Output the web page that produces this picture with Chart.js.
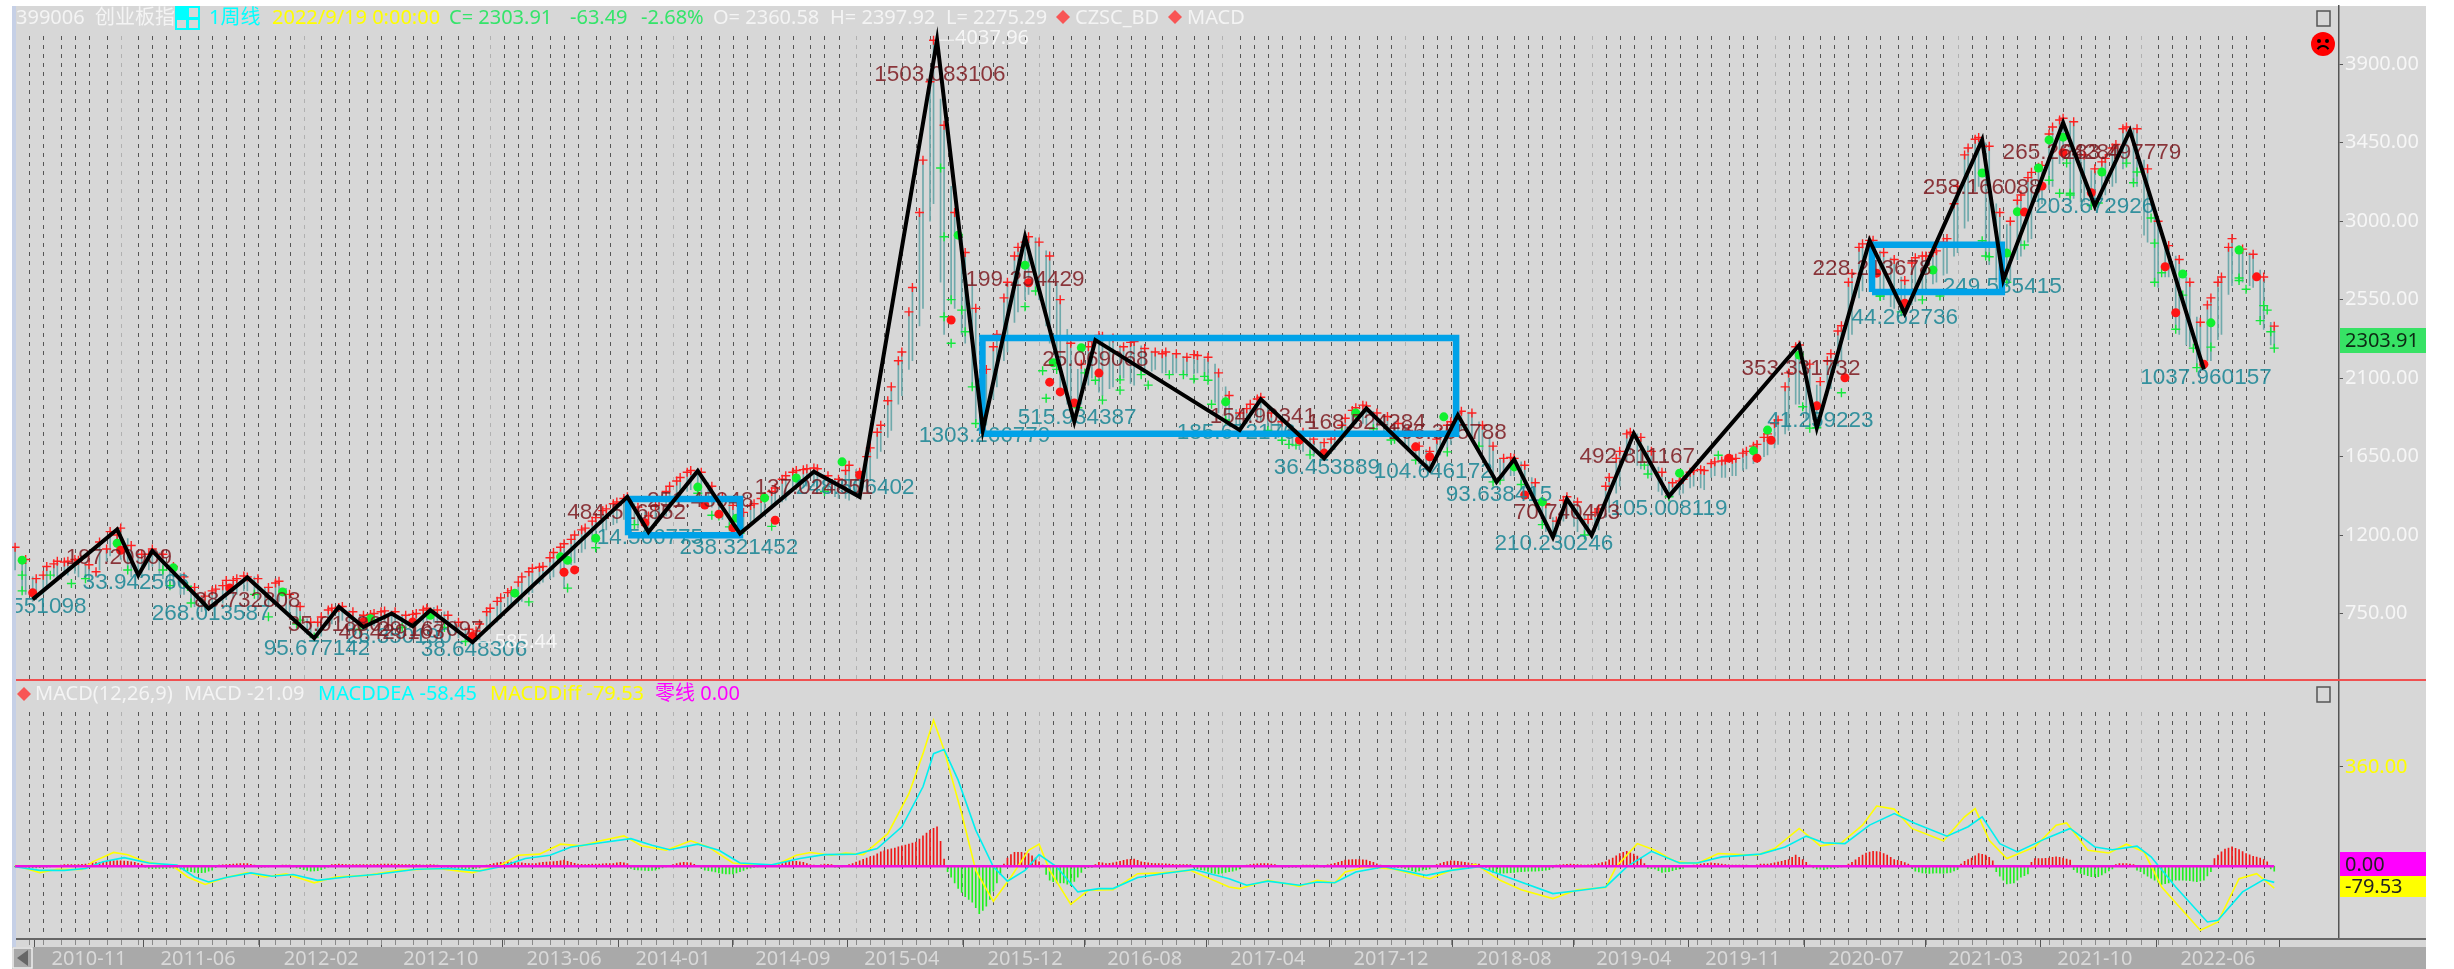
<!DOCTYPE html>
<html>
<head>
<meta charset="utf-8">
<title>399006</title>
<script src="https://cdn.jsdelivr.net/npm/chart.js@4"></script>
<style>
html, body { margin: 0; padding: 0; background: #fff; overflow: hidden; }
#wrap { width: 2454px; height: 969px; }
</style>
</head>
<body>
<div id="wrap"><canvas id="kline" width="2454" height="969"></canvas></div>
<script>
// all x values are weeks counted from the first bar (2010-06-07)
var tickLabels = ['2010-11','2011-06','2012-02','2012-10','2013-06','2014-01','2014-09','2015-04','2015-12','2016-08',
    '2017-04','2017-12','2018-08','2019-04','2019-11','2020-07','2021-03','2021-10','2022-06'];
var priceTicks = [3900, 3450, 3000, 2550, 2100, 1650, 1200, 750];
var macdTicks = [360];

// bars at weeks 0, 3, 6 ...
var barLows = [
    1000,860,830,900,960,970,960,940,1000,1080,
    1060,960,960,1020,950,900,860,790,770,790,
    830,860,880,830,800,820,740,670,610,620,
    690,710,660,660,680,700,690,670,680,710,
    690,650,610,590,600,660,720,790,820,870,
    930,960,900,1040,1120,1180,1230,1270,1290,1240,
    1220,1280,1330,1400,1460,1430,1360,1290,1230,1210,
    1280,1310,1370,1400,1460,1480,1470,1440,1410,1400,
    1410,1520,1680,1800,2000,2200,2500,3100,2350,2500,
    2300,1850,1830,2050,2250,2480,2580,2550,2300,2000,
    1900,1950,2100,2000,2050,2100,2060,2130,2150,2130,
    2130,2110,2130,2100,1900,1830,1800,1850,1850,1790,
    1740,1710,1680,1650,1640,1690,1760,1840,1830,1800,
    1790,1740,1680,1610,1572,1660,1720,1800,1750,1690,
    1510,1520,1540,1470,1370,1220,1190,1300,1220,1200,
    1230,1330,1480,1660,1580,1530,1430,1420,1440,1480,
    1460,1540,1530,1540,1580,1620,1660,1720,1800,1950,
    1830,1815,2040,2200,2350,2600,2650,2550,2500,2471,
    2540,2600,2650,2700,2820,3000,3200,2750,2650,2660,
    2800,2900,3100,3200,3350,3130,3110,3087,3150,3220,
    3320,3200,2880,2620,2680,2350,2280,2150,2200,2350,
    2630,2650,2620,2380,2275];
var barHighs = [
    1130,1060,950,1020,1050,1050,1055,1030,1160,1220,
    1240,1140,1090,1120,1090,1020,960,900,850,890,
    940,950,960,950,900,935,860,790,700,730,
    780,790,760,740,750,765,760,740,750,780,
    770,740,700,660,690,780,840,880,960,1010,
    1020,1100,1150,1200,1240,1300,1350,1390,1420,1360,
    1310,1400,1480,1530,1570,1560,1480,1420,1370,1330,
    1380,1420,1470,1540,1570,1580,1580,1540,1520,1600,
    1560,1700,1830,2050,2250,2620,3350,4037.96,3550,3050,
    2820,2500,2150,2350,2650,2850,2911,2880,2800,2550,
    2300,2180,2310,2340,2330,2280,2310,2270,2250,2250,
    2240,2220,2230,2220,2130,2000,1900,1950,1990,1900,
    1850,1800,1790,1750,1730,1780,1870,1930,1940,1900,
    1880,1840,1800,1710,1680,1790,1850,1910,1900,1830,
    1710,1640,1640,1600,1500,1380,1280,1420,1390,1290,
    1350,1530,1680,1790,1760,1680,1560,1500,1520,1570,
    1570,1620,1630,1640,1680,1720,1780,1860,2130,2290,
    2180,2080,2240,2400,2700,2870,2890,2820,2780,2660,
    2790,2800,2830,2900,3200,3420,3480,3430,3050,3000,
    3150,3280,3320,3540,3590,3570,3380,3300,3360,3440,
    3540,3530,3300,3000,2860,2780,2650,2420,2560,2680,
    2900,2840,2810,2680,2398];

// in-between bars at weeks 2, 5, 8 ...
var midLows = [
    880,820,860,960,970,980,950,960,1050,1100,
    1000,970,1000,980,910,860,810,760,780,810,
    840,880,860,800,800,770,690,630,610,680,
    700,680,660,690,700,695,670,680,700,700,
    670,630,590,590,650,700,770,810,860,920,
    950,980,1030,1100,1160,1220,1260,1290,1260,1220,
    1260,1310,1390,1450,1440,1380,1310,1250,1210,1260,
    1300,1350,1390,1450,1470,1480,1450,1420,1410,1420,
    1500,1640,1760,1950,2150,2400,3000,2650,2550,2350,
    2050,1840,1980,2200,2420,2550,2600,2400,2150,1950,
    1930,2060,2020,2040,2090,2070,2120,2140,2130,2120,
    2120,2125,2110,1960,1860,1810,1840,1860,1800,1760,
    1720,1690,1660,1640,1670,1740,1820,1840,1810,1790,
    1750,1700,1630,1575,1640,1700,1780,1770,1710,1560,
    1515,1540,1490,1400,1260,1190,1280,1250,1200,1220,
    1300,1440,1620,1600,1550,1450,1420,1430,1470,1470,
    1530,1530,1540,1570,1610,1650,1700,1780,1950,1860,
    1815,2000,2170,2320,2560,2650,2570,2510,2480,2520,
    2590,2640,2690,2800,2960,3170,2800,2650,2650,2780,
    2880,3080,3180,3330,3150,3110,3090,3130,3200,3300,
    3220,2920,2650,2680,2380,2290,2160,2200,2320,2580,
    2660,2630,2430,2290];
var midHighs = [
    1070,960,970,1035,1045,1060,1045,990,1120,1200,
    1180,1100,1090,1100,1030,980,910,850,880,910,
    940,965,960,900,925,895,800,720,700,770,
    785,770,745,745,760,765,745,745,770,785,
    760,710,670,650,760,820,870,930,990,1015,
    1070,1130,1175,1230,1280,1340,1380,1410,1380,1330,
    1370,1450,1510,1560,1565,1500,1440,1390,1340,1370,
    1410,1450,1520,1560,1575,1585,1545,1525,1570,1575,
    1650,1790,1970,2200,2480,3050,3800,3700,3200,2900,
    2650,2250,2280,2560,2800,2880,2905,2830,2650,2380,
    2150,2280,2345,2325,2290,2305,2285,2255,2240,2235,
    2225,2235,2210,2180,2050,1920,1925,1980,1930,1860,
    1810,1795,1760,1735,1750,1830,1915,1945,1910,1885,
    1850,1820,1730,1690,1750,1830,1900,1905,1850,1760,
    1640,1645,1620,1530,1420,1300,1400,1400,1310,1330,
    1480,1640,1780,1780,1710,1590,1510,1510,1560,1575,
    1610,1625,1635,1670,1710,1760,1840,2050,2280,2200,
    2060,2200,2370,2650,2850,2890,2830,2790,2680,2760,
    2800,2820,2880,3100,3380,3470,3450,3100,2980,3120,
    3250,3310,3500,3580,3575,3400,3290,3340,3420,3530,
    3535,3350,3050,2870,2800,2680,2450,2520,2650,2850,
    2860,2820,2720,2420];

var redDotWeeks = [5,30,61,99,113,130,156,159,179,196,200,204,216,240,266,288,294,297,301,308,365,372,398,402,429,487,495,499,512,520,529,537,571,576,582,590,611,614,622,637];
var redDotPrices = [869,1113,897,702,702,620,987,1000,1270,1372,1320,1241,1285,1544,2433,2647,2077,2021,1958,2129,1745,1670,1706,1649,1430,1641,1641,1744,1941,2102,2702,2530,3052,3202,3393,3163,2739,2475,2180,2681];
var greenDotWeeks = [2,29,45,76,101,118,142,155,157,165,194,205,213,222,235,268,287,295,303,344,381,406,426,434,473,494,498,507,545,559,566,569,575,578,582,593,616,624,632];
var greenDotPrices = [1056,1153,1012,874,720,740,867,1075,1055,1182,1475,1297,1413,1527,1620,2920,2748,2188,2274,1964,1900,1878,1591,1390,1555,1683,1802,2232,2720,3276,2817,3054,3305,3466,3482,3282,2697,2417,2835];
var greenCrossWeeks = [2,10,16,42,49,72,81,85,146,157,165,198,215,203,263,264,264,269,270,266,273,287,292,293,304,307,309,314,322,328,335,339,340,360,364,377,391,407,420,463,484,510,508,519,530,542,547,561,559,571,581,584,583,578,592,600,603,607,608,610,616,619,624,632,634,639,640,641,642];
var greenCrossPrices = [970,970,922,1000,905,731,712,615,817,896,1127,1314,1250,1247,3305,2911,2452,2490,2366,2300,1840,2510,2142,1985,2130,2088,1974,2031,2060,2120,2095,2088,1950,1744,1716,1792,1745,1677,1505,1601,1658,1813,1936,2016,2571,2549,2571,2796,2888,2863,3160,3160,3333,3235,3104,3333,3282,3018,2874,2704,2576,2272,2278,2674,2610,2516,2490,2366,2272];

// CZSC pen: black zigzag through the pivots
var penWeeks = [5,29,35,39,55,66,85,92,99,107,113,118,130,174,180,194,206,227,240,262,275,287,301,307,348,354,372,384,402,410,421,426,437,441,448,460,470,507,512,527,537,559,565,582,591,601,622];
var penPrices = [831,1232,970,1109,779,957,609,788,673,750,677,769,585.44,1419,1218,1568,1209,1563,1419,4037.96,1802,2911,1850,2318,1802,1978,1640,1926,1572,1888,1505,1634,1188,1406,1199,1782,1423,2290,1815,2888,2471,3466,2662,3565,3087,3519,2150];

// zhongshu boxes: [from week, to week], [low, high]
var boxWeeks = [[174.2,206],[274.9,409.5],[527.7,564.6]];
var boxPrices = [[1199,1407],[1781,2330],[2594,2865]];

// pen strength labels
var redLabels = ['197.20909','88.732808','35.018861','46.429163','29.167097','484.516852','251.45948','137.024851','1503.083106','199.254429','25.069068','154.90341','168.524284','166.355788','70.740403','492.811167','353.331732','228.213678','258.166088','265.264284','283.497779'];
var redLabelWeeks = [29.5,66,92.6,107,118,173.8,194.7,227,262.8,287,307,354.6,384,407,441,461,507.5,527.7,559,581.7,598.7];
var redLabelPrices = [1068,821,683,637,654,1326,1395,1469,3839,2662,2203,1876,1842,1785,1326,1647,2152,2726,3190,3391,3391];
var tealLabels = ['551098','33.942566','268.013587','95.677142','26.350190','38.648306','14.566775','238.321452','248.506402','515.934387','1303.266779','185.672176','36.453889','104.646172','93.638415','210.230246','105.008119','41.259223','44.262736','249.585415','203.672926','1037.960157'];
var tealLabelWeeks = [9.6,34.3,55.7,85.8,109,130.4,180.4,205.7,238.7,301.8,275.5,347,372.8,403,421.7,437.3,470,513,537,564.7,591,622.6];
var tealLabelPrices = [786,924,746,545,614,540,1182,1125,1469,1871,1767,1785,1584,1561,1429,1148,1349,1854,2444,2622,3081,2100];

// MACD lines
var diffWeeks = [0,7,12,19,22,28,32,37,45,49,54,60,66,71,77,85,91,100,109,120,130,138,143,149,155,161,167,173,178,185,192,197,204,210,216,222,226,232,236,241,248,254,258,261,264,269,273,278,283,288,291,294,300,305,312,319,326,334,345,348,356,365,370,375,378,384,392,402,408,415,422,428,437,444,452,455,461,466,472,478,484,495,500,507,513,519,525,529,534,539,548,554,557,561,566,574,580,583,589,595,600,605,610,621,626,632,637,642];
var diffValues = [4,-23,-11,-12,16,50,42,16,0,-39,-66,-41,-23,-39,-27,-60,-39,-33,-15,-8,-23,4,40,44,80,74,94,110,74,58,92,70,12,4,4,40,50,40,48,42,118,263,408,529,421,191,-15,-127,-39,58,80,-15,-138,-87,-85,-27,-24,-15,-75,-81,-51,-73,-51,-60,-21,-2,-11,-45,-15,7,-51,-85,-117,-85,-77,-2,82,58,16,10,46,40,64,137,74,85,149,218,207,137,92,179,209,94,28,70,149,157,58,48,80,52,-75,-232,-202,-45,-27,-79.53];
var deaWeeks = [0,7,14,20,25,31,38,46,51,55,60,67,73,79,86,94,103,114,123,132,138,145,152,158,167,175,181,186,194,200,206,215,223,230,239,245,252,258,261,264,268,273,278,282,287,291,296,302,308,312,319,326,335,345,350,356,365,370,375,381,389,401,408,416,424,437,445,452,458,465,473,478,485,496,503,509,514,520,527,534,540,549,555,559,564,569,577,584,591,596,603,607,614,623,626,633,639,642];
var deaValues = [-2,-15,-15,-8,16,31,12,4,-39,-57,-41,-24,-36,-30,-51,-39,-29,-11,-8,-17,-2,28,40,70,86,100,76,60,80,58,12,5,28,42,44,64,143,288,408,423,312,131,-2,-54,-15,42,-2,-93,-81,-81,-41,-27,-12,-45,-69,-54,-69,-57,-60,-21,-2,-33,-15,-2,-39,-99,-87,-75,-2,54,12,12,34,44,70,109,85,82,149,191,155,109,143,179,82,52,100,137,70,60,73,34,-75,-202,-196,-93,-48,-58.45];
var zeroWeeks = [0, 642];
var zeroValues = [0, 0];

// MACD histogram, one value per week
var histValues = [
    -2,-3,-4,-5,-6,-6,-6,-5,-4,-3,-2,0,2,4,6,6,6,6,6,7,8,10,12,13,14,16,18,19,20,20,20,19,18,16,14,11,8,-3,-8,-8,
    -8,-8,-8,-7,-6,-7,-8,-11,-14,-17,-20,-22,-24,-23,-22,-18,-14,-5,4,5,6,7,8,9,10,10,10,7,4,-2,-4,-3,-2,1,2,3,4,4,4,-2,
    -6,-9,-12,-15,-18,-17,-16,-12,-8,-3,6,7,8,7,6,6,6,6,6,6,6,6,6,7,8,8,8,8,8,7,6,6,6,6,6,5,4,5,6,5,
    4,2,-2,-4,-6,-7,-8,-9,-10,-10,-10,-8,-6,2,4,7,10,12,14,15,16,15,14,13,12,11,10,10,10,12,14,15,16,17,18,20,22,18,14,11,
    8,7,6,7,8,8,8,9,10,10,10,12,14,12,10,-8,-12,-13,-14,-15,-16,-15,-14,-10,-6,-2,2,6,10,12,14,13,12,7,2,-8,-14,-16,-18,-21,
    -24,-26,-28,-28,-28,-24,-20,-15,-10,-7,-4,-2,2,3,4,5,6,8,10,14,18,18,18,16,14,10,6,4,2,5,8,7,6,-3,-4,-2,2,6,10,15,
    20,25,30,34,38,45,52,56,60,63,66,70,74,77,80,84,88,98,110,120,130,137,143,90,26,-20,-40,-60,-80,-95,-110,-120,-130,-150,-172,-160,-145,-120,-90,-60,
    -30,8,30,42,50,50,50,48,46,38,30,16,4,-30,-50,-56,-60,-60,-60,-65,-70,-55,-40,-22,-8,-5,-4,6,14,12,10,11,12,15,18,21,24,25,26,21,
    16,14,12,11,10,10,10,9,8,7,6,6,6,6,6,-6,-10,-12,-14,-19,-24,-26,-28,-25,-22,-20,-18,-14,-10,3,4,6,8,9,10,10,10,8,6,2,
    -2,-3,-4,-4,-4,2,4,4,4,4,4,-2,-4,5,8,11,14,18,22,23,24,24,24,23,22,18,14,9,4,-2,-2,-3,-4,-5,-6,-9,-12,-16,-20,-17,
    -14,-12,-10,3,6,10,14,17,20,19,18,16,14,12,10,9,8,-3,-4,-14,-22,-24,-26,-25,-24,-23,-22,-21,-20,-19,-18,-18,-18,-17,-16,-14,-12,-6,4,5,
    6,7,8,7,6,5,4,5,6,8,10,13,16,23,30,38,46,50,54,49,44,37,30,10,-8,-9,-10,-16,-22,-21,-20,-16,-12,-10,-8,2,2,4,6,8,
    10,11,12,11,10,8,6,5,4,4,4,4,4,3,2,5,8,8,8,10,12,15,18,21,24,32,40,32,24,14,4,-6,-10,-11,-12,-10,-8,-6,-4,-2,
    2,8,14,23,32,40,48,51,54,53,52,46,40,32,24,21,18,13,8,-8,-18,-21,-24,-25,-26,-25,-24,-25,-26,-24,-22,-17,-12,8,18,24,30,38,46,43,
    40,32,20,-20,-36,-50,-64,-62,-60,-50,-40,-34,-28,14,28,28,28,29,30,32,34,32,30,26,22,-12,-22,-26,-30,-34,-38,-38,-38,-31,-24,-17,-10,6,10,10,
    10,8,6,-14,-20,-28,-36,-43,-50,-58,-66,-63,-60,-55,-50,-50,-50,-51,-52,-54,-56,-53,-50,-35,-20,28,40,52,62,66,70,65,60,53,46,41,36,33,30,24,
    16,-10,-18];

// first week that falls in a calendar month, used for the month grid and axis labels
var firstBar = Date.UTC(2010, 5, 7);
function weekOfMonth(y, m) {
    return Math.ceil((Date.UTC(y, m, 1) - firstBar) / (7 * 86400000));
}
var monthGrid = [];
for (var yy = 2010; yy <= 2022; yy++) {
    for (var mm = 0; mm < 12; mm++) {
        if ((yy == 2010 && mm < 6) || (yy == 2022 && mm > 8)) continue;
        monthGrid.push({ week: weekOfMonth(yy, mm), jan: mm == 0 });
    }
}
var tickWeeks = tickLabels.map(function(s) {
    var p = s.split('-');
    return weekOfMonth(+p[0], +p[1] - 1);
});

function pairs(xs, ys) {
    return xs.map(function(x, i) { return { x: x, y: ys[i] }; });
}
function boxPath(i) {
    var w = boxWeeks[i], p = boxPrices[i];
    return [{x:w[0],y:p[0]},{x:w[1],y:p[0]},{x:w[1],y:p[1]},{x:w[0],y:p[1]},{x:w[0],y:p[0]}];
}
function marksFrom(label, points, style, color, radius, width, order) {
    return { type: 'scatter', label: label, data: points, yAxisID: 'y', order: order,
        pointStyle: style, pointRadius: radius, borderColor: color, backgroundColor: color, pointBorderWidth: width };
}
function boxSet(i) {
    return { type: 'line', label: 'box' + i, data: boxPath(i), yAxisID: 'y', order: 3,
        borderColor: '#00a2e8', borderWidth: 6.5, borderJoinStyle: 'miter', pointRadius: 0, fill: false, tension: 0 };
}
function macdLine(label, xs, ys, color, width, order) {
    return { type: 'line', label: label, data: pairs(xs, ys), yAxisID: 'm', order: order,
        borderColor: color, borderWidth: width, pointRadius: 0, fill: false, tension: 0 };
}
function barSet(label, lows, highs, weekAt) {
    return { type: 'bar', label: label, yAxisID: 'y', order: 8, grouped: false, barThickness: 1, backgroundColor: '#6fa9ab',
        data: lows.map(function(v, i) { return { x: weekAt(i), y: [v, highs[i]] }; }) };
}
function barWeek(i) { return i * 3; }
function midWeek(i) { return i * 3 + 2; }

// red crosses sit on the high of the rising bars, green ones on the low of the falling in-between bars
var redCrossPoints = barHighs.map(function(v, i) { return { x: barWeek(i), y: v }; });
var extraGreenPoints = [];
midHighs.forEach(function(v, i) {
    if (barHighs[i + 1] >= barHighs[i]) redCrossPoints.push({ x: midWeek(i), y: v });
    else if (i % 2 == 0) extraGreenPoints.push({ x: midWeek(i), y: midLows[i] });
});

var FONT = '"Noto Sans", "Noto Sans CJK SC", sans-serif';
var PANE_LEFT = 12, PANE_RIGHT = 2426, PANE_TOP = 6, SPLIT_Y = 680, STRIP_Y = 947;

function text(ctx, s, x, y, color, font, align) {
    ctx.font = font || ('20px ' + FONT);
    ctx.fillStyle = color;
    ctx.textAlign = align || 'left';
    ctx.textBaseline = 'middle';
    ctx.fillText(s, x, y);
}
function diamond(ctx, x, y, r) {
    ctx.fillStyle = '#f85555';
    ctx.beginPath();
    ctx.moveTo(x - r, y); ctx.lineTo(x, y - r); ctx.lineTo(x + r, y); ctx.lineTo(x, y + r);
    ctx.closePath();
    ctx.fill();
}
function smallBox(ctx, x, y) {
    ctx.strokeStyle = '#555';
    ctx.lineWidth = 1.5;
    ctx.strokeRect(x, y, 13, 15);
}
function tag(ctx, s, top, bottom, bg, fg) {
    ctx.fillStyle = bg;
    ctx.fillRect(2340, top, PANE_RIGHT - 2340, bottom - top);
    text(ctx, s, 2345, (top + bottom) / 2 + 1, fg);
}

// month grid, drawn under the datasets
var panelPlugin = {
    id: 'panel',
    beforeDatasetsDraw: function(chart) {
        var ctx = chart.ctx, x = chart.scales.x;
        ctx.save();
        ctx.lineWidth = 1;
        monthGrid.forEach(function(g) {
            var px = Math.round(x.getPixelForValue(g.week)) + 0.5;
            ctx.strokeStyle = g.jan ? '#b0b0b0' : '#555';
            ctx.setLineDash([4, 5]);
            ctx.beginPath();
            ctx.moveTo(px, 36); ctx.lineTo(px, SPLIT_Y);
            ctx.moveTo(px, 712); ctx.lineTo(px, 937);
            ctx.stroke();
            ctx.setLineDash([]);
            ctx.strokeStyle = '#8a8a8a';
            ctx.beginPath();
            ctx.moveTo(px, 940); ctx.lineTo(px, 945);
            ctx.stroke();
        });
        ctx.restore();
    }
};

var backgroundPlugin = {
    id: 'background',
    beforeDraw: function(chart) {
        var ctx = chart.ctx;
        ctx.save();
        ctx.fillStyle = '#fff';
        ctx.fillRect(0, 0, chart.width, chart.height);
        ctx.fillStyle = '#d7d7d7';
        ctx.fillRect(PANE_LEFT, PANE_TOP, PANE_RIGHT - PANE_LEFT, STRIP_Y - PANE_TOP);
        ctx.fillStyle = '#a9a9a9';
        ctx.fillRect(PANE_LEFT, STRIP_Y, PANE_RIGHT - PANE_LEFT, chart.height - STRIP_Y);
        ctx.fillStyle = '#c6d0e6';
        ctx.fillRect(PANE_LEFT, PANE_TOP, 4, STRIP_Y - PANE_TOP);
        ctx.restore();
    }
};

// the pen labels lie over the marks and under the boxes
var labelPlugin = {
    id: 'penLabels',
    beforeDatasetDraw: function(chart, args) {
        if (chart.data.datasets[args.index].label != 'box2') return;
        var ctx = chart.ctx, x = chart.scales.x, y = chart.scales.y;
        var font = '22.5px "Liberation Sans", sans-serif';
        ctx.save();
        ctx.beginPath();
        ctx.rect(16, PANE_TOP, 2320, SPLIT_Y - PANE_TOP);
        ctx.clip();
        tealLabels.forEach(function(s, i) {
            text(ctx, s, x.getPixelForValue(tealLabelWeeks[i]), y.getPixelForValue(tealLabelPrices[i]), 'rgba(30,135,150,.88)', font, 'center');
        });
        redLabels.forEach(function(s, i) {
            text(ctx, s, x.getPixelForValue(redLabelWeeks[i]), y.getPixelForValue(redLabelPrices[i]), 'rgba(125,25,30,.85)', font, 'center');
        });
        // extreme price notes
        var hx = x.getPixelForValue(262), hy = y.getPixelForValue(4037.96);
        text(ctx, '4037.96', hx + 18, hy - 2, '#f6f6f6');
        ctx.strokeStyle = '#f6f6f6';
        ctx.beginPath(); ctx.moveTo(hx, hy); ctx.lineTo(hx + 17, hy); ctx.stroke();
        var lx = x.getPixelForValue(130), ly = y.getPixelForValue(585.44);
        text(ctx, '585.44', lx + 22, ly, '#f6f6f6');
        ctx.beginPath(); ctx.moveTo(lx, ly); ctx.lineTo(lx + 20, ly); ctx.stroke();
        ctx.restore();
    }
};

// header texts, pane separators, price tags and small controls
var chromePlugin = {
    id: 'chrome',
    afterDraw: function(chart) {
        var ctx = chart.ctx;
        ctx.save();
        ctx.fillStyle = '#f05050';
        ctx.fillRect(PANE_LEFT + 4, SPLIT_Y - 1, PANE_RIGHT - PANE_LEFT - 4, 2);
        ctx.fillStyle = '#666';
        ctx.fillRect(PANE_LEFT + 4, 938, PANE_RIGHT - PANE_LEFT - 4, 2);

        var w = '#f4f4f4', g = '#34e46a';
        text(ctx, '399006  创业板指', 16, 18, w);
        text(ctx, '1周线', 209, 18, '#00ffff');
        text(ctx, '2022/9/19 0:00:00', 272, 18, '#ffff00');
        text(ctx, 'C= 2303.91', 449, 18, g);
        text(ctx, '-63.49', 570, 18, g);
        text(ctx, '-2.68%', 641, 18, g);
        text(ctx, 'O= 2360.58', 713, 18, w);
        text(ctx, 'H= 2397.92', 830, 18, w);
        text(ctx, 'L= 2275.29', 946, 18, w);
        diamond(ctx, 1063, 17, 7);
        text(ctx, 'CZSC_BD', 1075, 18, w);
        diamond(ctx, 1175, 17, 7);
        text(ctx, 'MACD', 1187, 18, w);

        diamond(ctx, 24, 694, 7);
        text(ctx, 'MACD(12,26,9)', 35, 694, w);
        text(ctx, 'MACD -21.09', 184, 694, w);
        text(ctx, 'MACDDEA -58.45', 318, 694, '#00ffff');
        text(ctx, 'MACDDiff -79.53', 490, 694, '#ffff00');
        text(ctx, '零线 0.00', 655, 694, '#ff00ff');

        // cyan period icon
        ctx.fillStyle = '#00ffff';
        ctx.fillRect(175, 6, 25, 24);
        ctx.fillStyle = '#d7d7d7';
        ctx.fillRect(189, 8, 9, 9);
        ctx.fillRect(177, 20, 9, 8);
        ctx.fillRect(189, 20, 9, 8);

        smallBox(ctx, 2317, 11);
        smallBox(ctx, 2317, 687);

        // sad face button
        ctx.fillStyle = '#ff0000';
        ctx.beginPath(); ctx.arc(2323, 44, 12, 0, Math.PI * 2); ctx.fill();
        ctx.fillStyle = '#000';
        ctx.beginPath(); ctx.arc(2319, 41, 2, 0, Math.PI * 2); ctx.arc(2327, 41, 2, 0, Math.PI * 2); ctx.fill();
        ctx.strokeStyle = '#000';
        ctx.lineWidth = 2;
        ctx.beginPath(); ctx.arc(2323, 52, 6, Math.PI * 1.15, Math.PI * 1.85); ctx.stroke();

        // scroll arrow
        ctx.strokeStyle = '#eee';
        ctx.lineWidth = 1.5;
        ctx.strokeRect(PANE_LEFT + 1, STRIP_Y + 1, 19, 20);
        ctx.fillStyle = '#666';
        ctx.beginPath(); ctx.moveTo(17, 958); ctx.lineTo(28, 950); ctx.lineTo(28, 966); ctx.closePath(); ctx.fill();

        tag(ctx, '2303.91', 328, 353, '#37e265', '#0d2a14');
        tag(ctx, '0.00', 852, 876, '#ff00ff', '#222');
        tag(ctx, '-79.53', 876, 897, '#ffff00', '#222');
        ctx.restore();
    }
};

function noPadding(s) {
    s.paddingTop = 0; s.paddingBottom = 0; s.paddingLeft = 0; s.paddingRight = 0;
}

var ctx = document.getElementById('kline').getContext('2d');
new Chart(ctx, {
    type: 'scatter',
    data: {
        datasets: [
            { type: 'line', label: 'pen', data: pairs(penWeeks, penPrices), yAxisID: 'y', order: 1,
              borderColor: '#000', borderWidth: 4, borderJoinStyle: 'miter', pointRadius: 0, fill: false, tension: 0 },
            boxSet(0), boxSet(1), boxSet(2),
            marksFrom('redDot', pairs(redDotWeeks, redDotPrices), 'circle', '#ff1515', 4.5, 0, 5),
            marksFrom('greenDot', pairs(greenDotWeeks, greenDotPrices), 'circle', '#10f030', 4.5, 0, 5),
            marksFrom('greenCross', pairs(greenCrossWeeks, greenCrossPrices).concat(extraGreenPoints), 'cross', '#12e83c', 4.5, 1.4, 6),
            marksFrom('redCross', redCrossPoints, 'cross', '#ff2020', 4.5, 1.4, 6),
            barSet('bars', barLows, barHighs, barWeek),
            barSet('midBars', midLows, midHighs, midWeek),
            macdLine('zero', zeroWeeks, zeroValues, '#f010e0', 2.5, 1),
            macdLine('dea', deaWeeks, deaValues, '#00f0f0', 1.6, 2),
            macdLine('diff', diffWeeks, diffValues, '#ffff00', 1.6, 3),
            { type: 'bar', label: 'hist', yAxisID: 'm', order: 4, grouped: false, barThickness: 1,
              data: histValues.map(function(v, i) { return { x: i, y: [0, v] }; }),
              backgroundColor: function(c) { return histValues[c.dataIndex] >= 0 ? '#f01818' : '#20f020'; } }
        ]
    },
    options: {
        responsive: false,
        animation: false,
        layout: { padding: { left: PANE_LEFT, top: PANE_TOP, right: 0, bottom: 0 } },
        plugins: { legend: { display: false }, tooltip: { enabled: false }, title: { display: false } },
        scales: {
            x: {
                type: 'linear', min: -0.88, max: 660.4, offset: false,
                afterBuildTicks: function(s) { s.ticks = tickWeeks.map(function(v) { return { value: v }; }); },
                afterFit: function(s) { s.height = 30; noPadding(s); },
                grid: { drawOnChartArea: false, color: '#555', tickLength: 8 },
                border: { display: false },
                ticks: {
                    autoSkip: false, maxRotation: 0, padding: 0, color: '#d9d9d9', font: { size: 20, family: FONT },
                    callback: function(v) { return tickLabels[tickWeeks.indexOf(v)]; }
                }
            },
            y: {
                type: 'linear', position: 'right', stack: 'panes', stackWeight: 674, weight: 1, min: 367.6, max: 4234,
                afterBuildTicks: function(s) { s.ticks = priceTicks.map(function(v) { return { value: v }; }); },
                afterFit: function(s) { s.width = 115; noPadding(s); },
                grid: { drawOnChartArea: false, color: '#555', tickLength: 4 },
                border: { color: '#555', width: 1.5 },
                ticks: { padding: 2, color: '#f6f6f6', font: { size: 20, family: FONT },
                    callback: function(v) { return v.toFixed(2); } }
            },
            m: {
                type: 'linear', position: 'right', stack: 'panes', stackWeight: 258.7, weight: 2, min: -263.6, max: 674,
                afterBuildTicks: function(s) { s.ticks = macdTicks.map(function(v) { return { value: v }; }); },
                afterFit: function(s) { s.width = 115; noPadding(s); },
                grid: { drawOnChartArea: false, color: '#555', tickLength: 4 },
                border: { color: '#555', width: 1.5 },
                ticks: { padding: 2, color: '#ffff00', font: { size: 20, family: FONT },
                    callback: function(v) { return v.toFixed(2); } }
            }
        }
    },
    plugins: [backgroundPlugin, panelPlugin, labelPlugin, chromePlugin]
});
</script>
</body>
</html>
